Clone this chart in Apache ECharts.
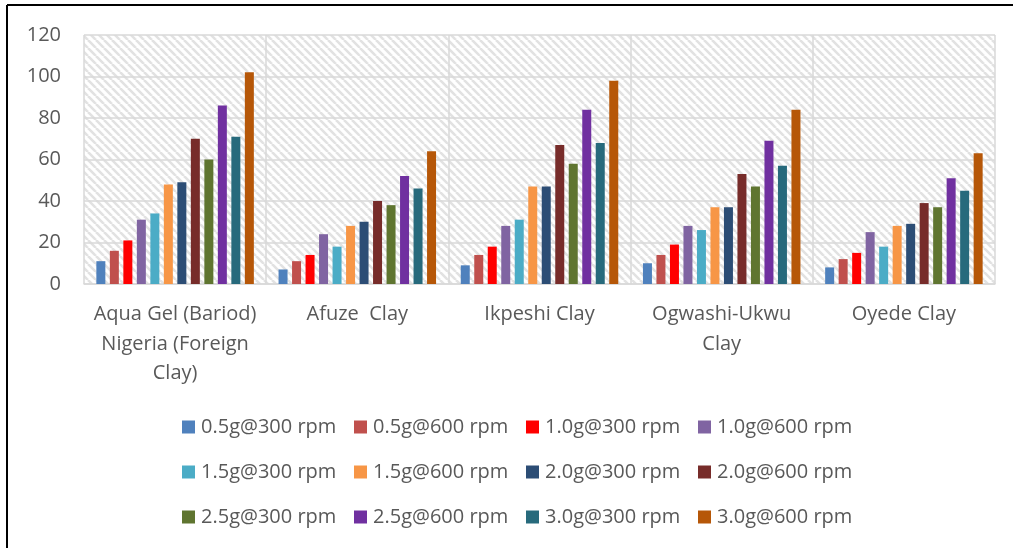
<!DOCTYPE html>
<html>
<head>
<meta charset="utf-8">
<script src="https://cdn.jsdelivr.net/npm/echarts@6/dist/echarts.min.js"></script>
<style>
  html, body { margin: 0; padding: 0; background: #ffffff; }
  #chart { width: 1013px; height: 548px; }
</style>
</head>
<body>
<div id="chart"></div>
<script>
// Clay samples on the category axis
const categories = [
  'Aqua Gel (Bariod)\nNigeria (Foreign\nClay)',
  'Afuze  Clay',
  'Ikpeshi Clay',
  'Ogwashi-Ukwu\nClay',
  'Oyede Clay'
];

// Value-axis ticks
const yTicks = [0, 20, 40, 60, 80, 100, 120];

// Dial readings for each concentration / speed, one value per clay
const g05_300 = [11, 7, 9, 10, 8];
const g05_600 = [16, 11, 14, 14, 12];
const g10_300 = [21, 14, 18, 19, 15];
const g10_600 = [31, 24, 28, 28, 25];
const g15_300 = [34, 18, 31, 26, 18];
const g15_600 = [48, 28, 47, 37, 28];
const g20_300 = [49, 30, 47, 37, 29];
const g20_600 = [70, 40, 67, 53, 39];
const g25_300 = [60, 38, 58, 47, 37];
const g25_600 = [86, 52, 84, 69, 51];
const g30_300 = [71, 46, 68, 57, 45];
const g30_600 = [102, 64, 98, 84, 63];

const seriesNames = [
  '0.5g@300 rpm', '0.5g@600 rpm', '1.0g@300 rpm', '1.0g@600 rpm',
  '1.5g@300 rpm', '1.5g@600 rpm', '2.0g@300 rpm', '2.0g@600 rpm',
  '2.5g@300 rpm', '2.5g@600 rpm', '3.0g@300 rpm', '3.0g@600 rpm'
];
const seriesValues = [
  g05_300, g05_600, g10_300, g10_600, g15_300, g15_600,
  g20_300, g20_600, g25_300, g25_600, g30_300, g30_600
];
const seriesColors = [
  '#4F81BD', '#C0504D', '#FF0000', '#8064A2', '#4BACC6', '#F79646',
  '#2C4D75', '#772C2A', '#5F7530', '#7030A0', '#276A7C', '#B65708'
];

const FONT = '"Open Sans", "Noto Sans", sans-serif';
const FONT_SIZE = 20;
const TEXT_COLOR = '#595959';
const GRID_COLOR = '#d9d9d9';

// Diagonal hatch tile for the plot background
function hatchTile() {
  const size = 8;
  const c = document.createElement('canvas');
  c.width = size; c.height = size;
  const ctx = c.getContext('2d');
  ctx.fillStyle = '#ffffff';
  ctx.fillRect(0, 0, size, size);
  ctx.strokeStyle = '#e2e2e2';
  ctx.lineWidth = 2.6;
  for (let k = -1; k <= 1; k++) {
    ctx.beginPath();
    ctx.moveTo(k * size, 0);
    ctx.lineTo(k * size + size, size);
    ctx.stroke();
  }
  return c;
}

const legendRows = [0, 1, 2].map(function (r) {
  return {
    data: seriesNames.slice(r * 4, r * 4 + 4),
    left: 182,
    top: 416 + r * 45,
    padding: 0,
    orient: 'horizontal',
    icon: 'rect',
    itemWidth: 13,
    itemHeight: 13,
    itemGap: 10,
    selectedMode: false,
    textStyle: {
      fontFamily: FONT,
      fontSize: FONT_SIZE,
      color: TEXT_COLOR,
      width: 143,
      lineHeight: 22,
      padding: [0, 0, 0, 1]
    }
  };
});

const chart = echarts.init(document.getElementById('chart'), null, { renderer: 'canvas' });

chart.setOption({
  animation: false,
  backgroundColor: '#ffffff',
  textStyle: { fontFamily: FONT },
  grid: {
    left: 84,
    right: 18,
    top: 35,
    bottom: 264,
    show: true,
    borderWidth: 0,
    backgroundColor: { image: hatchTile(), repeat: 'repeat' }
  },
  legend: legendRows,
  xAxis: {
    type: 'category',
    data: categories,
    boundaryGap: true,
    axisLine: { show: true, lineStyle: { color: GRID_COLOR, width: 1.5 } },
    axisTick: { show: false },
    splitLine: { show: true, lineStyle: { color: GRID_COLOR, width: 1.5 } },
    axisLabel: {
      interval: 0,
      margin: 16,
      fontFamily: FONT,
      fontSize: FONT_SIZE,
      lineHeight: 29.5,
      color: TEXT_COLOR
    }
  },
  yAxis: {
    type: 'value',
    min: yTicks[0],
    max: yTicks[yTicks.length - 1],
    interval: yTicks[1] - yTicks[0],
    axisLine: { show: false },
    axisTick: { show: false },
    splitLine: { show: true, lineStyle: { color: GRID_COLOR, width: 1.5 } },
    axisLabel: {
      margin: 23,
      fontFamily: FONT,
      fontSize: FONT_SIZE,
      color: TEXT_COLOR
    }
  },
  series: seriesNames.map(function (name, i) {
    return {
      name: name,
      type: 'bar',
      data: seriesValues[i],
      barWidth: 9,
      barGap: '50%',
      itemStyle: { color: seriesColors[i] }
    };
  }),
  graphic: [
    // chart frame: top and left edges
    {
      type: 'line',
      shape: { x1: 7, y1: 5, x2: 1013, y2: 5 },
      style: { stroke: '#000000', lineWidth: 2 }
    },
    {
      type: 'line',
      shape: { x1: 7, y1: 5, x2: 7, y2: 548 },
      style: { stroke: '#000000', lineWidth: 2 }
    }
  ]
});
</script>
</body>
</html>
